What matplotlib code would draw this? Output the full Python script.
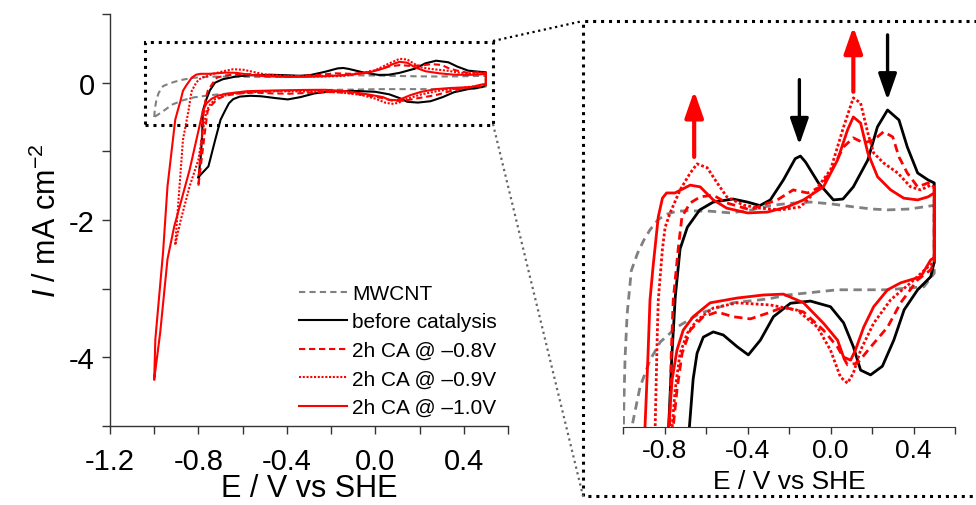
import matplotlib
matplotlib.use("Agg")
import matplotlib.pyplot as plt
from matplotlib.lines import Line2D
from matplotlib.patches import Rectangle

plt.rcParams['font.family'] = ['Liberation Sans', 'DejaVu Sans']
plt.rcParams['mathtext.fontset'] = 'custom'
plt.rcParams['mathtext.rm'] = 'Liberation Sans'
plt.rcParams['mathtext.it'] = 'Liberation Sans:italic'

# ---------------- data (E / V vs SHE, I / mA cm^-2) ----------------
mwcnt_E = [-1.0, -0.997, -0.99, -0.98, -0.96, -0.93, -0.90, -0.87, -0.83, -0.79, -0.74, -0.69, -0.58,
           -0.48, -0.38, -0.29, -0.20, -0.097, 0.0, 0.11, 0.20, 0.275, 0.38, 0.493, 0.50,
           0.50, 0.45, 0.275, 0.034, -0.208, -0.30, -0.47, -0.628, -0.74, -0.82, -0.87, -0.918, -0.966, -1.0]
mwcnt_I = [-0.50, -0.38, -0.25, -0.15, -0.05, -0.01, 0.02, 0.044, 0.068, 0.08, 0.087, 0.088, 0.087,
           0.083, 0.09, 0.10, 0.105, 0.108, 0.104, 0.097, 0.092, 0.09, 0.092, 0.10, 0.10,
           -0.056, -0.087, -0.094, -0.094, -0.106, -0.115, -0.124, -0.148, -0.18, -0.214, -0.256, -0.318, -0.43, -0.50]

before_E = [-0.80, -0.79, -0.783, -0.78, -0.765, -0.748, -0.725, -0.69, -0.63, -0.565, -0.47, -0.40, -0.34,
            -0.29, -0.227, -0.17, -0.145, -0.12, -0.058, 0.014, 0.06, 0.11, 0.18, 0.226, 0.275, 0.33,
            0.37, 0.42, 0.47, 0.50,
            0.50, 0.483, 0.42, 0.355, 0.305, 0.25, 0.193, 0.145, 0.11, 0.063, 0.0, -0.097, -0.193,
            -0.275, -0.338, -0.396, -0.45, -0.517, -0.565, -0.613, -0.643, -0.662, -0.68, -0.70,
            -0.724, -0.755, -0.79, -0.80]
before_I = [-1.38, -1.10, -0.75, -0.41, -0.25, -0.11, 0.0, 0.05, 0.09, 0.108, 0.115, 0.108, 0.10,
            0.113, 0.159, 0.208, 0.214, 0.20, 0.152, 0.113, 0.115, 0.143, 0.205, 0.281, 0.32, 0.297,
            0.235, 0.175, 0.159, 0.152,
            -0.03, -0.064, -0.094, -0.14, -0.21, -0.27, -0.29, -0.279, -0.225, -0.17, -0.133, -0.12, -0.125,
            -0.156, -0.21, -0.244, -0.225, -0.198, -0.191, -0.203, -0.24, -0.30, -0.41, -0.54,
            -0.83, -1.22, -1.34, -1.38]

ca08_E = [-0.80, -0.795, -0.785, -0.775, -0.768, -0.758, -0.734, -0.716, -0.676, -0.628, -0.565, -0.50,
          -0.386, -0.353, -0.256, -0.18, -0.11, -0.048, 0.014, 0.063, 0.11, 0.16, 0.208, 0.256, 0.30,
          0.33, 0.37, 0.42, 0.47, 0.49, 0.50,
          0.50, 0.483, 0.42, 0.338, 0.275, 0.193, 0.13, 0.082, 0.034, -0.034, -0.13, -0.227, -0.304,
          -0.386, -0.47, -0.546, -0.613, -0.676, -0.715, -0.74, -0.758, -0.77, -0.785, -0.80]
ca08_I = [-1.50, -1.20, -0.80, -0.41, -0.25, -0.118, 0.0, 0.074, 0.106, 0.12, 0.124, 0.106,
          0.09, 0.097, 0.113, 0.136, 0.129, 0.143, 0.189, 0.235, 0.256, 0.244, 0.251, 0.27, 0.258,
          0.212, 0.175, 0.143, 0.152, 0.143, 0.14,
          -0.03, -0.048, -0.071, -0.124, -0.18, -0.226, -0.263, -0.267, -0.226, -0.187, -0.145, -0.134, -0.148,
          -0.161, -0.156, -0.145, -0.156, -0.187, -0.24, -0.325, -0.41, -0.70, -1.10, -1.50]

ca09_E = [-0.905, -0.89, -0.87, -0.845, -0.835, -0.83, -0.81, -0.797, -0.773, -0.725, -0.676, -0.643,
          -0.594, -0.546, -0.50, -0.42, -0.338, -0.24, -0.145, -0.097, 0.0, 0.063, 0.11, 0.145, 0.18,
          0.208, 0.256, 0.324, 0.386, 0.435, 0.483, 0.50,
          0.50, 0.473, 0.386, 0.29, 0.208, 0.145, 0.11, 0.082, 0.048, 0.0, -0.063, -0.16, -0.29, -0.45,
          -0.565, -0.643, -0.69, -0.725, -0.749, -0.763, -0.775, -0.80, -0.84, -0.88, -0.905]
ca09_I = [-2.36, -1.70, -0.83, -0.41, -0.20, -0.118, 0.0, 0.05, 0.083, 0.136, 0.175, 0.196,
          0.187, 0.152, 0.12, 0.101, 0.094, 0.09, 0.097, 0.12, 0.182, 0.281, 0.348, 0.336, 0.267,
          0.221, 0.198, 0.175, 0.143, 0.136, 0.147, 0.143,
          -0.03, -0.04, -0.078, -0.117, -0.171, -0.233, -0.286, -0.309, -0.295, -0.233, -0.18, -0.141, -0.129, -0.124,
          -0.136, -0.164, -0.194, -0.24, -0.325, -0.41, -0.60, -1.12, -1.51, -2.0, -2.36]

ca10_E = [-1.0, -0.995, -0.96, -0.94, -0.905, -0.894, -0.88, -0.87, -0.855, -0.83, -0.81, -0.79, -0.75,
          -0.676, -0.628, -0.565, -0.50, -0.40, -0.304, -0.208, -0.13, -0.034, 0.034, 0.082, 0.11,
          0.145, 0.18, 0.227, 0.29, 0.353, 0.42, 0.47, 0.50,
          0.50, 0.483, 0.435, 0.338, 0.275, 0.208, 0.16, 0.12, 0.097, 0.063, 0.034, -0.034, -0.13,
          -0.227, -0.324, -0.45, -0.58, -0.662, -0.71, -0.74, -0.763, -0.78, -0.80, -0.84, -0.91,
          -0.94, -0.973, -1.0]
ca10_I = [-4.32, -3.74, -2.47, -1.51, -0.54, -0.41, -0.25, -0.118, -0.04, 0.074, 0.117, 0.129, 0.129,
          0.147, 0.143, 0.113, 0.094, 0.083, 0.085, 0.097, 0.113, 0.143, 0.205, 0.274, 0.304,
          0.29, 0.221, 0.166, 0.136, 0.117, 0.113, 0.12, 0.129,
          -0.02, -0.025, -0.064, -0.078, -0.094, -0.133, -0.18, -0.233, -0.256, -0.249, -0.21, -0.171, -0.124,
          -0.104, -0.106, -0.113, -0.124, -0.156, -0.187, -0.233, -0.30, -0.41, -0.70, -1.27, -2.1,
          -2.57, -3.64, -4.32]

labels = ["MWCNT", "before catalysis", "2h CA @ \u20130.8V", "2h CA @ \u20130.9V", "2h CA @ \u20131.0V"]

main_xticks = [-1.2, -0.8, -0.4, 0.0, 0.4]
main_xticklabels = ["-1.2", "-0.8", "-0.4", "0.0", "0.4"]
main_xminor = [-1.0, -0.6, -0.2, 0.2, 0.6]
main_yticks = [-4, -2, 0]
main_yticklabels = ["-4", "-2", "0"]
main_yminor = [-5, -3, -1, 1]
inset_xticks = [-0.8, -0.4, 0.0, 0.4]
inset_xticklabels = ["-0.8", "-0.4", "0.0", "0.4"]
inset_xminor = [-1.0, -0.6, -0.2, 0.2, 0.6]

# arrows (tail E, tail I, tip E, tip I)
red_arrows = [(-0.657, 0.212, -0.657, 0.364), (0.11, 0.362, 0.11, 0.512)]
black_arrows = [(-0.15, 0.39, -0.15, 0.24), (0.275, 0.493, 0.275, 0.343)]

# ---------------- styles ----------------
series = [
    (mwcnt_E, mwcnt_I, dict(color='#808080', ls=(0, (3, 2)))),
    (before_E, before_I, dict(color='black', ls='-')),
    (ca08_E, ca08_I, dict(color='#ff0000', ls=(0, (3, 1.8)))),
    (ca09_E, ca09_I, dict(color='#ff0000', ls=(0, (1, 0.8)))),
    (ca10_E, ca10_I, dict(color='#ff0000', ls='-')),
]

W, H = 976, 506
fig = plt.figure(figsize=(W / 100, H / 100), dpi=100)

# ---------------- main axes ----------------
ax = fig.add_axes([110 / W, 79 / H, 398 / W, 412 / H])
for (e, i, st), lab in zip(series, labels):
    ax.plot(e, i, lw=1.5, label=lab, **st)
ax.set_xlim(-1.2, 0.6)
ax.set_ylim(-5, 1)
for s in ['top', 'right']:
    ax.spines[s].set_visible(False)
for s in ['left', 'bottom']:
    ax.spines[s].set_color('#333333')
    ax.spines[s].set_linewidth(1.0)
ax.set_xticks(main_xticks)
ax.set_xticklabels(main_xticklabels)
ax.set_xticks(main_xminor, minor=True)
ax.set_yticks(main_yticks)
ax.set_yticklabels(main_yticklabels)
ax.set_yticks(main_yminor, minor=True)
ax.tick_params(axis='both', which='both', direction='out', length=6, width=1.0, color='#333333')
ax.tick_params(axis='x', which='major', labelsize=21, pad=9)
ax.tick_params(axis='y', which='major', labelsize=21, pad=5)
ax.set_xlabel("E / V vs SHE", fontsize=22, labelpad=-1)
ax.set_ylabel(r"$I$ / mA cm$^{-2}$", fontsize=22, labelpad=4)

leg = ax.legend(loc='upper left', bbox_to_anchor=(0.474, 0.345), frameon=False, fontsize=15,
                handlelength=2.3, handletextpad=0.25, labelspacing=0.46, borderpad=0, borderaxespad=0)

# zoom rectangle on main axes
ax.add_patch(Rectangle((-1.04, -0.61), 1.574, 1.206, fill=False, ec='black', lw=2.2,
                       ls=(0, (1, 1.6)), clip_on=False))

# ---------------- inset axes ----------------
axi = fig.add_axes([623 / W, 78 / H, 332 / W, 406 / H])
axi.patch.set_visible(False)
for (e, i, st) in series:
    axi.plot(e, i, lw=2.0, **st)
axi.set_xlim(-1.0, 0.6)
axi.set_ylim(-0.41, 0.525)
for s in ['top', 'right', 'left']:
    axi.spines[s].set_visible(False)
axi.spines['bottom'].set_color('#333333')
axi.set_yticks([])
axi.set_xticks(inset_xticks)
axi.set_xticklabels(inset_xticklabels)
axi.set_xticks(inset_xminor, minor=True)
axi.tick_params(axis='x', which='both', direction='out', length=5, width=1.0, color='#333333')
axi.tick_params(axis='x', which='major', labelsize=19, pad=3)
axi.set_xlabel("E / V vs SHE", fontsize=19, labelpad=5)

for (x0, y0, x1, y1) in red_arrows:
    axi.annotate('', xy=(x1, y1), xytext=(x0, y0),
                 arrowprops=dict(arrowstyle='-|>,head_length=0.8,head_width=0.28', color='#ff0000',
                                 lw=3.0, mutation_scale=20, shrinkA=0, shrinkB=0))
for (x0, y0, x1, y1) in black_arrows:
    axi.annotate('', xy=(x1, y1), xytext=(x0, y0),
                 arrowprops=dict(arrowstyle='-|>,head_length=0.8,head_width=0.28', color='black',
                                 lw=2.4, mutation_scale=20, shrinkA=0, shrinkB=0))

# inset frame and connectors (figure coords)
fx = lambda px: px / W
fy = lambda py: 1 - py / H
fig.add_artist(Line2D([1.01, fx(583), fx(583), 1.01], [fy(22), fy(22), fy(497), fy(497)],
                      color='black', lw=2.2, ls=(0, (1, 1.6)), transform=fig.transFigure))
fig.add_artist(Line2D([fx(493), fx(583)], [fy(42), fy(22)], color='black', lw=1.6,
                      ls=(0, (1, 1.6)), transform=fig.transFigure))
fig.add_artist(Line2D([fx(493), fx(583)], [fy(125), fy(497)], color='#666666', lw=1.6,
                      ls=(0, (1, 1.6)), transform=fig.transFigure))

fig.savefig("out.png", dpi=100)
